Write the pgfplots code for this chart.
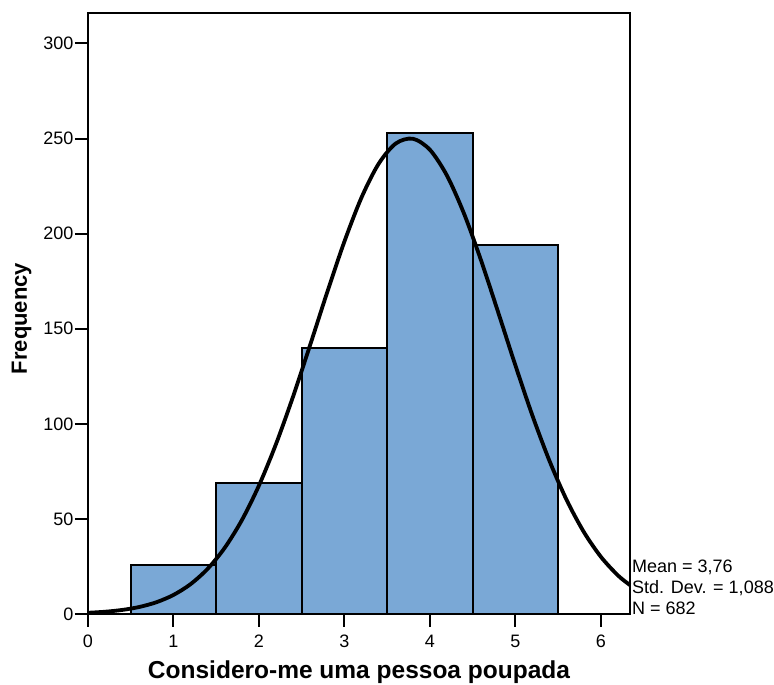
\documentclass[border=0pt]{standalone}
\usepackage{fontspec}
\setmainfont{Liberation Sans}
\usepackage{pgfplots}
\pgfplotsset{compat=1.18}
\definecolor{barblue}{RGB}{122,168,214}
\begin{document}
\begin{tikzpicture}
\begin{axis}[
  scale only axis,
  width=542pt, height=601pt,
  xmin=0, xmax=6.34, ymin=0, ymax=316,
  xtick={0,1,2,3,4,5,6},
  ytick={0,50,100,150,200,250,300},
  tick pos=left,
  tick align=outside,
  major tick length=13pt,
  tick style={line width=2pt, black},
  axis line style={line width=2pt},
  /pgf/number format/assume math mode=true,
  ticklabel style={font=\fontsize{18}{20}\selectfont},
  xticklabel style={inner sep=1pt, yshift=-7pt},
  yticklabel style={inner sep=1.5pt},
  clip=false,
]
\addplot[ybar interval, fill=barblue, draw=black, line width=2pt]
  coordinates {(0.5,26) (1.5,69) (2.5,140) (3.5,253) (4.5,194) (5.5,0)};
\addplot[smooth, black, line width=3.8pt, mark=none] coordinates {
(0,0.64) (0.2,1.19) (0.4,2.13) (0.6,3.69) (0.8,6.18) (1.0,10.02) (1.2,15.70)
(1.4,23.79) (1.6,34.85) (1.8,49.36) (2.0,67.58) (2.2,89.46) (2.4,114.49)
(2.6,141.65) (2.8,169.44) (3.0,195.93) (3.2,219.05) (3.4,236.75) (3.6,247.38)
(3.8,249.90) (4.0,244.06) (4.2,230.43) (4.4,210.34) (4.6,185.62)
(4.8,158.36) (5.0,130.62) (5.2,104.15) (5.4,80.30) (5.6,59.84) (5.8,43.12)
(6.0,30.04) (6.2,20.23) (6.34,15.2)};
\end{axis}
\node[anchor=base, inner sep=0pt, font=\fontsize{24.5}{28}\selectfont\bfseries]
  at ([yshift=-65pt]current axis.south) {Considero-me uma pessoa poupada};
\node[anchor=base, rotate=90, inner sep=0pt, font=\fontsize{22}{26}\selectfont\bfseries]
  at ([xshift=-61pt,yshift=-5pt]current axis.west) {Frequency};
\begin{scope}[every node/.style={font=\fontsize{18}{20}\selectfont, anchor=base west, inner sep=0pt}]
\node at ([shift={(2pt,41pt)}]current axis.south east) {Mean = 3,76};
\node at ([shift={(2pt,20pt)}]current axis.south east) {Std. Dev. = 1,088};
\node at ([shift={(2pt,-1pt)}]current axis.south east) {N = 682};
\end{scope}
\pgfresetboundingbox
\path[use as bounding box] ([shift={(-88pt,-71pt)}]current axis.south west) rectangle ([shift={(144pt,13pt)}]current axis.north east);
\end{tikzpicture}
\end{document}
